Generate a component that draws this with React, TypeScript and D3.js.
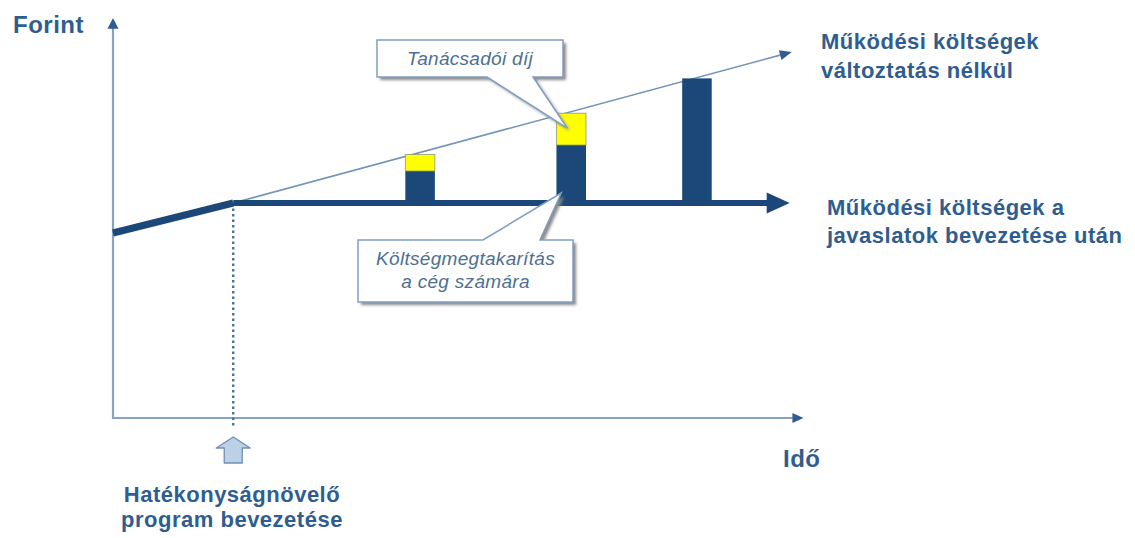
import React from "react";
import * as d3 from "d3";

// ---- data (conceptual units: time 0..100, cost 0..100) ----
const programStart = 17.5;
const startCost = 46.25;
const reducedCost = 53.75;
const unchangedEnd = { t: 98.8, cost: 91.5 };
const reducedEnd = 98.5;
const barTimes = [44.7, 66.7, 85.0];
const barSavingTop = [61.75, 68.25, 84.9]; // navy part top (savings)
const barTotalTop = [65.9, 76.2, 84.9]; // yellow part top (consulting fee)
const barWidthUnits = 4.3;

const labelUnchanged = ["Működési költségek", "változtatás nélkül"];
const labelReduced = ["Működési költségek a", "javaslatok bevezetése után"];
const labelProgram = ["Hatékonyságnövelő", "program bevezetése"];
const labelFee = "Tanácsadói díj";
const labelSaving = ["Költségmegtakarítás", "a cég számára"];

const W = 1135;
const H = 538;
const navy = "#1b4878";
const axisCol = "#86a3c4";
const textCol = "#2f5d8f";
const font = "'Liberation Sans', Arial, sans-serif";

export default function App() {
  const x = d3.scaleLinear().domain([0, 100]).range([113, 800]);
  const y = d3.scaleLinear().domain([0, 100]).range([418, 18]);
  const bw = x(barWidthUnits) - x(0);

  const x0 = x(0);
  const yBase = y(0);
  const ps = x(programStart);
  const yr = y(reducedCost);

  const thickLeft = d3.line()([
    [x0, y(startCost)],
    [ps, yr],
  ]);

  // thin unchanged line
  const tx1 = ps, ty1 = yr, tx2 = x(unchangedEnd.t), ty2 = y(unchangedEnd.cost);
  const ang = Math.atan2(ty2 - ty1, tx2 - tx1);
  const hl = 12, hw = 5;
  const bx = tx2 - hl * Math.cos(ang), by = ty2 - hl * Math.sin(ang);
  const thinHead = `M${tx2},${ty2} L${bx + hw * Math.sin(ang)},${by - hw * Math.cos(ang)} L${bx - hw * Math.sin(ang)},${by + hw * Math.cos(ang)} Z`;

  const rEnd = x(reducedEnd);

  // callouts
  const tip1x = x(barTimes[1]) - 4;
  const tip1y = y(barTotalTop[1]) + 15;
  const c1 = `M377,40 H563 V77 H533 L${tip1x},${tip1y} L487,77 H377 Z`;
  const tip2x = x(barTimes[1]) - 10;
  const tip2y = y(barSavingTop[1]) + 48;
  const c2 = `M358,240 H483 L${tip2x},${tip2y} L540,240 H573 V302 H358 Z`;

  const labelStyle: React.CSSProperties = {
    fontFamily: font,
    fontWeight: 700,
    fontSize: 22,
    letterSpacing: 0.5,
    fill: textCol,
  };
  const italicStyle: React.CSSProperties = {
    fontFamily: font,
    fontStyle: "italic",
    fontSize: 19,
    letterSpacing: 0.3,
    fill: "#4e6f93",
  };

  const ax = ps;
  return (
    <svg
      width={W}
      height={H}
      style={{ position: "absolute", left: 0, top: 0, background: "#fff" }}
    >
      <defs>
        <filter id="sh" x="-10%" y="-10%" width="130%" height="140%">
          <feGaussianBlur stdDeviation="1.8" />
        </filter>
      </defs>

      {/* axes */}
      <line x1={x0} y1={yBase} x2={x0} y2={y(97.5)} stroke={axisCol} strokeWidth={2.2} />
      <path d={`M${x0},${y(100)} L${x0 - 5.5},${y(97.3)} L${x0 + 5.5},${y(97.3)} Z`} fill="#2f5d8f" />
      <line x1={x0 - 1} y1={yBase} x2={x(99)} y2={yBase} stroke={axisCol} strokeWidth={2.2} />
      <path d={`M${x(100.5)},${yBase} L${x(98.9)},${yBase - 5} L${x(98.9)},${yBase + 5} Z`} fill="#2f5d8f" />

      {/* dotted program line */}
      <line x1={ps} y1={yr} x2={ps} y2={yBase + 9} stroke="#4a719e" strokeWidth={2.4} strokeDasharray="2.5 3" />

      {/* thin unchanged-costs line */}
      <line x1={tx1} y1={ty1} x2={bx} y2={by} stroke="#7293b8" strokeWidth={1.6} />
      <path d={thinHead} fill="#2f5d8f" />

      {/* bars */}
      {barTimes.map((t, i) => (
        <g key={i}>
          <rect
            x={x(t) - bw / 2}
            y={y(barSavingTop[i])}
            width={bw}
            height={yr - y(barSavingTop[i])}
            fill={navy}
          />
          {barTotalTop[i] > barSavingTop[i] && (
            <rect
              x={x(t) - bw / 2}
              y={y(barTotalTop[i])}
              width={bw}
              height={y(barSavingTop[i]) - y(barTotalTop[i])}
              fill="#ffff00"
              stroke="#8d9a7a"
              strokeWidth={0.8}
            />
          )}
        </g>
      ))}

      {/* thick lines */}
      <path d={thickLeft || ""} stroke={navy} strokeWidth={7} fill="none" strokeLinecap="butt" />
      <line x1={ps} y1={yr} x2={rEnd - 21} y2={yr} stroke={navy} strokeWidth={6} />
      <path d={`M${rEnd},${yr} L${rEnd - 23},${yr - 10.5} L${rEnd - 23},${yr + 10.5} Z`} fill={navy} />

      {/* callouts */}
      <path d={c1} transform="translate(3,3)" fill="#8a8a8a" filter="url(#sh)" />
      <path d={c1} fill="#fff" stroke="#7f9fc2" strokeWidth={1.5} />
      <text x={470} y={65} textAnchor="middle" style={italicStyle}>{labelFee}</text>

      <path d={c2} transform="translate(3,3)" fill="#8a8a8a" filter="url(#sh)" />
      <path d={c2} fill="#fff" stroke="#7f9fc2" strokeWidth={1.5} />
      {labelSaving.map((s, i) => (
        <text key={i} x={465.5} y={265 + i * 23} textAnchor="middle" style={italicStyle}>{s}</text>
      ))}

      {/* block arrow */}
      <path
        d={`M${ax},437 L${ax + 17},448 L${ax + 9},448 L${ax + 9},463 L${ax - 9},463 L${ax - 9},448 L${ax - 17},448 Z`}
        fill="#bcd0e6"
        stroke="#6f8fb5"
        strokeWidth={1.3}
        strokeLinejoin="round"
      />

      {/* labels */}
      <text x={13} y={33} style={{ ...labelStyle, fontSize: 24 }}>Forint</text>
      <text x={783} y={467} style={{ ...labelStyle, fontSize: 24 }}>Idő</text>
      {labelUnchanged.map((s, i) => (
        <text key={i} x={821} y={49 + i * 29} style={labelStyle}>{s}</text>
      ))}
      {labelReduced.map((s, i) => (
        <text key={i} x={827} y={215 + i * 28} style={labelStyle}>{s}</text>
      ))}
      {labelProgram.map((s, i) => (
        <text key={i} x={232} y={502 + i * 25} textAnchor="middle" style={labelStyle}>{s}</text>
      ))}
    </svg>
  );
}
